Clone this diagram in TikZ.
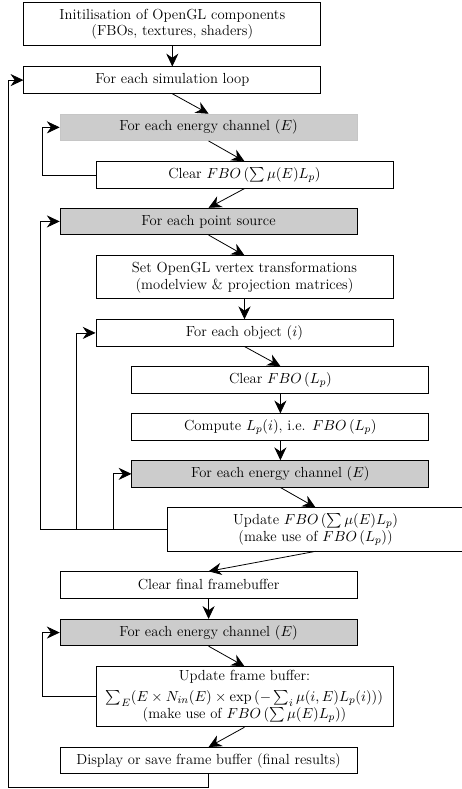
\documentclass[tikz,border=0pt]{standalone}
\usepackage{amsmath,amssymb}
\usepackage{tikz}
\usetikzlibrary{calc,arrows.meta}

\begin{document}
\begin{tikzpicture}[line width=0.6pt,
  box/.style={draw, rectangle, minimum width=7.86cm, minimum height=0.7cm, align=center, inner ysep=3pt, font=\fontsize{11}{12.75}\selectfont},
  loopbox/.style={box, fill=gray!40},
  arr/.style={-{Stealth[length=3.4mm,width=3.2mm]}}]
\useasboundingbox (0,0) rectangle (12.2,-20.88);
% boxes, one column step = 0.95
\node[box, minimum height=1.14cm] (init) at (4.56,-0.64) {Initilisation of OpenGL components\\(FBOs, textures, shaders)};
\node[box] (sim) at (4.56,-2.12) {For each simulation loop};
\node[loopbox, draw=gray!45] (chanA) at (5.52,-3.37) {For each energy channel $(E)$};
\node[box] (clrsum) at (6.47,-4.63) {Clear $FBO\,(\sum\mu(E)L_p)$};
\node[loopbox] (src) at (5.52,-5.86) {For each point source};
\node[box, minimum height=1.14cm] (vert) at (6.47,-7.34) {Set OpenGL vertex transformations\\(modelview \& projection matrices)};
\node[box] (obj) at (6.47,-8.81) {For each object $(i)$};
\node[box] (clrlp) at (7.42,-10.05) {Clear $FBO\,(L_p)$};
\node[box] (comp) at (7.42,-11.30) {Compute $L_p(i)$, i.e. $FBO\,(L_p)$};
\node[loopbox] (chanB) at (7.42,-12.54) {For each energy channel $(E)$};
\node[box, minimum height=1.14cm] (upd) at (8.35,-14.01) {Update $FBO\,(\sum\mu(E)L_p)$\\(make use of $FBO\,(L_p)$)};
\node[box] (clrfin) at (5.52,-15.48) {Clear final framebuffer};
\node[loopbox] (chanC) at (5.52,-16.74) {For each energy channel $(E)$};
\node[box, minimum height=1.59cm, inner ysep=2pt] (frame) at (6.47,-18.44) {Update frame buffer:\\[3pt]$\sum_E(E\times N_{in}(E)\times\exp\,(-\sum_i\mu(i,E)L_p(i)))$\\(make use of $FBO\,(\sum\mu(E)L_p)$)};
\node[box] (disp) at (5.52,-20.13) {Display or save frame buffer (final results)};
% main flow
\draw[arr] (init.south) -- (sim.north);
\draw[arr] (sim.south) -- (chanA.north);
\draw[arr] (chanA.south) -- (clrsum.north);
\draw[arr] (clrsum.south) -- (src.north);
\draw[arr] (src.south) -- (vert.north);
\draw[arr] (vert.south) -- (obj.north);
\draw[arr] (obj.south) -- (clrlp.north);
\draw[arr] (clrlp.south) -- (comp.north);
\draw[arr] (comp.south) -- (chanB.north);
\draw[arr] (chanB.south) -- (upd.north);
\draw[arr] (upd.south) -- (clrfin.north);
\draw[arr] (clrfin.south) -- (chanC.north);
\draw[arr] (chanC.south) -- (frame.north);
\draw[arr] (frame.south) -- (disp.north);
% loops back
\draw[arr] (clrsum.west) -- ++(-1.40,0) |- (chanA.west);
\draw[arr] (upd.west) -- ++(-3.34,0) |- (src.west);
\draw[arr] (upd.west) -- ++(-2.38,0) |- (obj.west);
\draw[arr] (upd.west) -- ++(-1.40,0) |- (chanB.west);
\draw[arr] (frame.west) -- ++(-1.40,0) |- (chanC.west);
\draw[arr] (disp.south) |- (0.21,-20.85) |- (sim.west);
\end{tikzpicture}
\end{document}
